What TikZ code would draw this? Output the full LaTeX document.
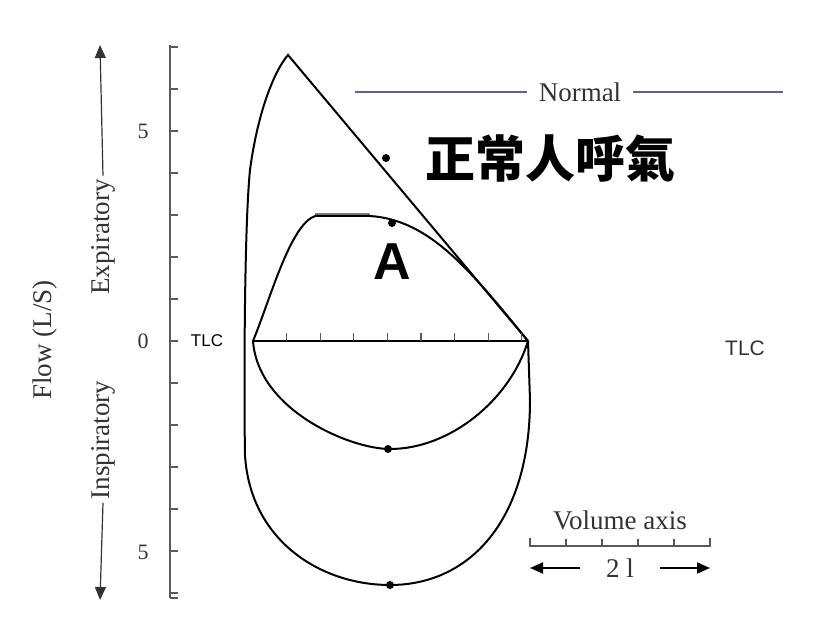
\documentclass[tikz,border=0pt]{standalone}
\usepackage{fontspec}
\setmainfont{Liberation Serif}
\newfontfamily\cjk{Noto Sans CJK SC}[BoldFont={Noto Sans CJK SC Black}]
\newfontfamily\sansf{Liberation Sans}
\usetikzlibrary{arrows.meta}
\begin{document}
\begin{tikzpicture}[x=1pt,y=-1pt,
  curve/.style={line width=2pt,black},
  axis/.style={gray!70!black,line width=1.2pt},
  lbl/.style={font=\fontsize{22}{22}\selectfont,text=black!80},
  big/.style={font=\fontsize{27}{27}\selectfont,text=black!80},
  dot/.style={circle,fill=black,inner sep=0,minimum size=8pt}]
\useasboundingbox (0,0) rectangle (820,631);
% vertical axis
\draw[axis] (170,45) -- (170,598);
\foreach \k in {-6,...,7} \draw[axis] (170,341-42*\k) -- (178,341-42*\k);
\draw[axis] (170,598) -- (178,598);
\node[lbl] (t5) at (143,131) {5};
\node[lbl] (t0) at (143,341) {0};
\node[lbl] (tm5) at (143,552) {5};
\node[font=\sansf\fontsize{17}{17}\selectfont] (tlcl) at (207,341) {TLC};
\node[font=\sansf\fontsize{21}{21}\selectfont,text=black!80] (tlcr) at (745,348) {TLC};
% left label and arrows
\node[big,rotate=90] (flow) at (45,340) {Flow (L/S)};
\node[big,rotate=90] (exp) at (103,237) {Expiratory};
\node[big,rotate=90] (insp) at (103,440) {Inspiratory};
\coordinate (atop) at (100,45); \coordinate (abot) at (100,600);
\draw[axis,-{Triangle[length=13pt,width=11pt]},black!80] (exp.east) -- (atop);
\draw[axis,-{Triangle[length=13pt,width=11pt]},black!80] (insp.west) -- (abot);
% normal loop
\draw[curve] (528,341) -- (288,55) .. controls (275,70) and (258,110) .. (250,170)
  .. controls (244,230) and (244,400) .. (245,455)
  .. controls (250,540) and (320,585) .. (390,585)
  .. controls (470,585) and (530,520) .. (530,400) -- (528,341);
% loop A
\draw[line width=1.5pt,gray] (315,214) -- (370,214);
\draw[curve] (253,341) .. controls (270,300) and (290,225) .. (315,216)
  -- (370,216) .. controls (430,220) and (470,270) .. (528,341);
\draw[curve] (253,341) .. controls (258,410) and (350,449) .. (390,449)
  .. controls (450,449) and (510,400) .. (528,341);
% horizontal line
\draw[curve] (253,341) -- (528,341);
\foreach \i in {1,...,8} \draw[axis] (253+33.6*\i,341) -- (253+33.6*\i,333);
\node[dot] (d1) at (386,158) {};
\node[dot] (d2) at (392,223) {};
\node[dot] (d3) at (388,449) {};
\node[dot] (d4) at (390,585) {};
% labels
\node[big,inner xsep=12pt] (normal) at (580,92) {Normal};
\coordinate (n1) at (355,92); \coordinate (n2) at (783,92);
\draw[line width=1.5pt,blue!25!gray] (n1) -- (normal.west);
\draw[line width=1.5pt,blue!25!gray] (normal.east) -- (n2);
\node[font=\cjk\bfseries\fontsize{50}{50}\selectfont] (cn) at (550,158) {正常人呼氣};
\node[font=\sansf\bfseries\fontsize{52}{52}\selectfont] (A) at (392,262) {A};
% volume axis
\node[big] (vol) at (620,520) {Volume axis};
\draw[axis] (530,538) -- (530,546) -- (710,546) -- (710,538);
\foreach \i in {1,...,4} \draw[axis] (530+36*\i,546) -- (530+36*\i,539);
\node[big] (two) at (620,568) {2 l};
\coordinate (la) at (530,568); \coordinate (ra) at (710,568);
\draw[line width=1.8pt,-{Triangle[length=13pt,width=11pt]}] (580,568) -- (la);
\draw[line width=1.8pt,-{Triangle[length=13pt,width=11pt]}] (660,568) -- (ra);
\end{tikzpicture}
\end{document}
